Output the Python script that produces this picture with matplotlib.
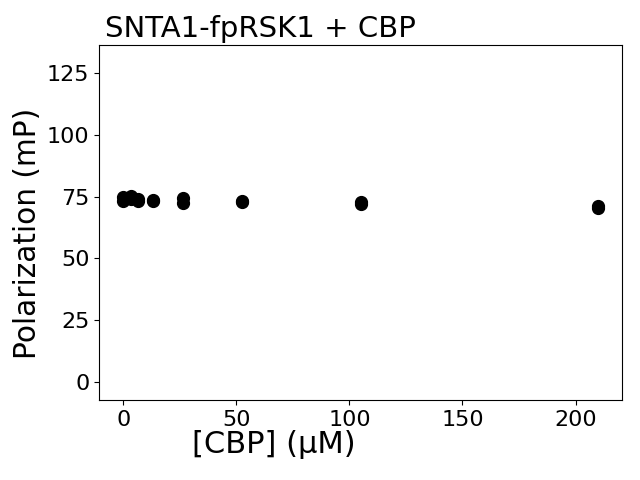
import matplotlib
matplotlib.use('Agg')
import matplotlib.pyplot as plt
import numpy as np

# CBP titration (uM), duplicate reads
conc = [0, 0, 3.28, 3.28, 6.56, 6.56, 13.125, 13.125, 26.25, 26.25,
        52.5, 52.5, 105, 105, 210, 210]
polarization = [75.0, 73.5, 75.2, 74.3, 74.0, 73.3, 73.6, 73.2, 74.6, 72.4,
                73.5, 73.0, 73.1, 72.0, 71.2, 70.6]

fig, ax = plt.subplots(figsize=(6.4, 4.8), dpi=100)
fig.subplots_adjust(left=0.155, right=0.972, top=0.906, bottom=0.167)
ax.plot(conc, polarization, 'o', color='black', markersize=8.5)
ax.set_xlim(-10.7, 220.6)
ax.set_ylim(-7.3, 136.5)
ax.set_xticks([0, 50, 100, 150, 200])
ax.set_yticks([0, 25, 50, 75, 100, 125])
ax.tick_params(labelsize=16)
ax.set_xlabel('[CBP] (µM)', fontsize=22)
ax.xaxis.set_label_coords(0.333, -0.085)
ax.set_ylabel('Polarization (mP)', fontsize=21.3)
ax.yaxis.set_label_coords(-0.109, 0.47)
ax.set_title('SNTA1-fpRSK1 + CBP', fontsize=21, loc='left', x=0.011)
plt.savefig('out.png')
